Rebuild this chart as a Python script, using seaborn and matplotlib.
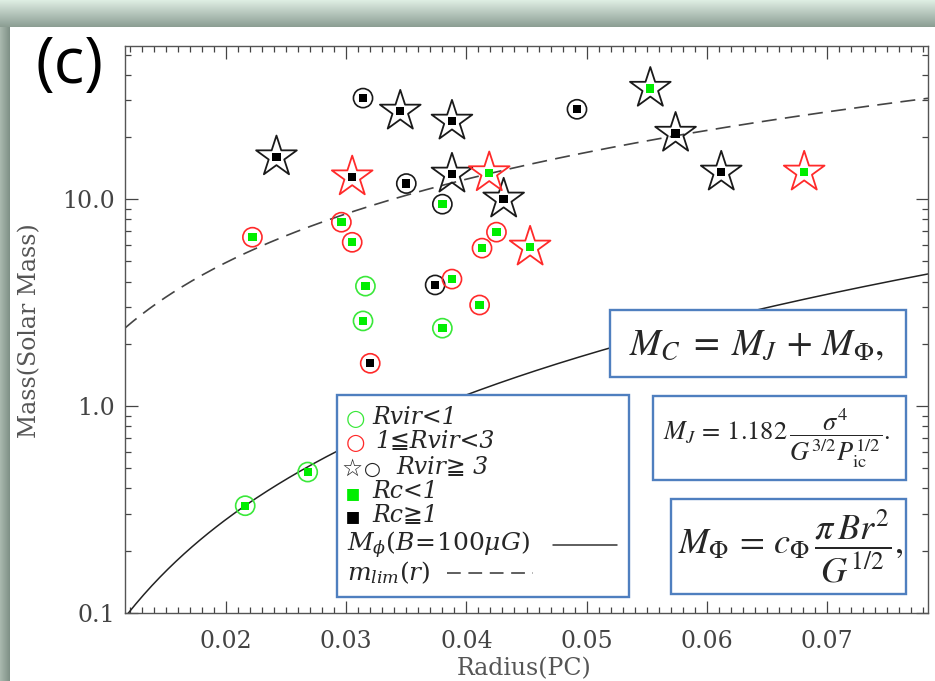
import numpy as np
import pandas as pd
import matplotlib
matplotlib.use("Agg")
import matplotlib.pyplot as plt
import seaborn as sns
from matplotlib.ticker import MultipleLocator, LogLocator, FuncFormatter, NullFormatter
from matplotlib.patches import Rectangle
from matplotlib.lines import Line2D

# ---------------- data ----------------
radius = [0.0216, 0.0268, 0.0316, 0.0314, 0.0380,
          0.0222, 0.0296, 0.0305, 0.0388, 0.0411, 0.0413, 0.0425,
          0.0320,
          0.0314, 0.0350, 0.0492, 0.0374,
          0.0380,
          0.0242, 0.0345, 0.0388, 0.0388, 0.0431, 0.0574, 0.0612,
          0.0553,
          0.0305,
          0.0419, 0.0453, 0.0681]
mass = [0.330, 0.48, 3.80, 2.58, 2.38,
        6.55, 7.74, 6.19, 4.11, 3.08, 5.80, 6.93,
        1.61,
        30.8, 11.9, 27.2, 3.85,
        9.46,
        16.0, 26.6, 23.8, 13.2, 10.0, 20.8, 13.5,
        34.3,
        12.8,
        13.4, 5.86, 13.5]
ring_color = (["green"] * 5 + ["red"] * 7 + ["red"] + ["black"] * 4 + ["black"]
              + ["black"] * 7 + ["black"] + ["red"] + ["red"] * 3)
ring_shape = (["circle"] * 5 + ["circle"] * 7 + ["circle"] + ["circle"] * 4 + ["circle"]
              + ["star"] * 7 + ["star"] + ["star"] + ["star"] * 3)
core_color = (["green"] * 5 + ["green"] * 7 + ["black"] + ["black"] * 4 + ["green"]
              + ["black"] * 7 + ["green"] + ["black"] + ["green"] * 3)

# model curves: M_phi = k * r^2 (B = 100 muG), m_lim = a * r^p
mphi_coef = 708.0
mlim_coef = 927.0
mlim_index = 1.338

x_limits = (0.0116, 0.0784)
y_limits = (0.1, 55.0)

df = pd.DataFrame({"radius": radius, "mass": mass, "ring_color": ring_color,
                   "ring_shape": ring_shape, "core_color": core_color})

# ---------------- style ----------------
sns.set_style("ticks")
plt.rcParams["font.family"] = ["DejaVu Serif", "DejaVu Sans", "Noto Sans CJK JP"]
plt.rcParams["mathtext.fontset"] = "dejavuserif"

W, H = 935, 681
fig = plt.figure(figsize=(W / 100, H / 100), dpi=100)

# slide-like background
axbg = fig.add_axes([0, 0, 1, 1], zorder=0)
bg = np.ones((H, W, 3))
top_h, left_w = 27, 10
t = np.linspace(0, 1, top_h)[:, None]
c0 = np.array([0.87, 0.93, 0.89]); c1 = np.array([0.55, 0.62, 0.58])
bg[:top_h] = (c0 * (1 - t) + c1 * t)[:, None, :]
s = np.linspace(0, 1, left_w)[:, None]
l0 = np.array([0.66, 0.72, 0.68]); l1 = np.array([0.50, 0.57, 0.53])
bg[top_h:, :left_w] = (l0 * (1 - s) + l1 * s)[None, :, :]
axbg.imshow(bg, extent=(0, W, H, 0), aspect="auto", interpolation="bilinear")
axbg.set_axis_off()

# main axes
L, R, T, B = 125, 928, 46, 613
ax = fig.add_axes([L / W, 1 - B / H, (R - L) / W, (B - T) / H], zorder=1)
ax.set_facecolor("white")
ax.set_yscale("log")

# model curves
r_grid = np.linspace(x_limits[0], x_limits[1], 300)
sns.lineplot(x=r_grid, y=mphi_coef * r_grid ** 2, ax=ax, color="#222222",
             linewidth=1.1, zorder=2)
sns.lineplot(x=r_grid, y=mlim_coef * r_grid ** mlim_index, ax=ax, color="#444444",
             linewidth=1.2, linestyle=(0, (9, 5)), zorder=2)

edge_colors = {"green": "#3ae83a", "red": "#ff2a2a", "black": "#1a1a1a"}
core_colors = {"green": "#00ee00", "black": "#000000"}
shape_marker = {"circle": "o", "star": "*"}
shape_size = {"circle": 190, "star": 950}
shape_lw = {"circle": 1.2, "star": 1.3}

for (rc, shp), grp in df.groupby(["ring_color", "ring_shape"]):
    sns.scatterplot(data=grp, x="radius", y="mass", ax=ax, marker=shape_marker[shp],
                    s=shape_size[shp], facecolor="none", edgecolor=edge_colors[rc],
                    linewidth=shape_lw[shp], zorder=3, legend=False)
for cc, grp in df.groupby("core_color"):
    sns.scatterplot(data=grp, x="radius", y="mass", ax=ax, marker="s", s=36,
                    color=core_colors[cc], edgecolor="none", linewidth=0,
                    zorder=4, legend=False)

ax.set_xlim(*x_limits)
ax.set_ylim(*y_limits)
ax.xaxis.set_major_locator(MultipleLocator(0.01))
ax.xaxis.set_minor_locator(MultipleLocator(0.001))
ax.xaxis.set_major_formatter(FuncFormatter(lambda v, p: f"{v:.2f}"))
ax.yaxis.set_major_locator(LogLocator(base=10, numticks=10))
ax.yaxis.set_minor_locator(LogLocator(base=10, subs=np.arange(2, 10), numticks=20))
ax.yaxis.set_minor_formatter(NullFormatter())
ax.yaxis.set_major_formatter(FuncFormatter(lambda v, p: f"{v:.1f}"))
ax.tick_params(which="both", direction="in", top=True, right=True,
               color="#444444", labelcolor="#444444", labelsize=17, width=0.9)
ax.tick_params(which="major", length=9)
ax.tick_params(which="minor", length=4.5)
ax.tick_params(axis="x", pad=12)
ax.tick_params(axis="y", pad=7)
for sp in ax.spines.values():
    sp.set_color("#555555"); sp.set_linewidth(1.0)

ax.set_xlabel("Radius(PC)", fontsize=17, color="#555555")
ax.xaxis.set_label_coords((524 - L) / (R - L), -(657 - B) / (B - T))
ax.set_ylabel("Mass(Solar Mass)", fontsize=17, color="#555555")
ax.yaxis.set_label_coords((30 - L) / (R - L), (B - 331) / (B - T))
ax.yaxis.label.set_va("center")

# overlay (pixel coordinates) for panel label, legend box and formula boxes
axo = fig.add_axes([0, 0, 1, 1], zorder=5)
axo.set_xlim(0, W); axo.set_ylim(H, 0); axo.set_axis_off()
axo.patch.set_alpha(0)

axo.text(70, 66, "(c)", fontsize=46, family="Open Sans", ha="center", va="center",
         color="black")

box_col = "#4f7fbf"
def box(x0, y0, x1, y1):
    axo.add_patch(Rectangle((x0, y0), x1 - x0, y1 - y0, facecolor="white",
                            edgecolor=box_col, linewidth=1.7, zorder=1))

# legend
box(337, 395, 629, 597)
sym_fam = ["DejaVu Sans", "Noto Sans CJK JP"]
txt_fam = ["DejaVu Serif", "DejaVu Sans", "Noto Sans CJK JP"]
lfs = 17
axo.text(355, 419, "○", color="#3ae83a", fontsize=16, family=sym_fam, ha="center", va="center", zorder=2)
axo.text(372, 418, "Rvir<1", fontsize=lfs, family=txt_fam, style="italic", va="center", zorder=2)
axo.text(355, 443, "○", color="#ff2a2a", fontsize=16, family=sym_fam, ha="center", va="center", zorder=2)
axo.text(375, 442, "1≦Rvir<3", fontsize=lfs, family=txt_fam, style="italic", va="center", zorder=2)
axo.text(352, 469, "☆", color="#222222", fontsize=17, family=sym_fam, ha="center", va="center", zorder=2)
axo.text(372, 469, "○", color="#222222", fontsize=14, family=sym_fam, ha="center", va="center", zorder=2)
axo.text(396, 468, "Rvir≧ 3", fontsize=lfs, family=txt_fam, style="italic", va="center", zorder=2)
axo.text(353, 493, "▪", color="#00ee00", fontsize=17, family=sym_fam, ha="center", va="center", zorder=2)
axo.text(372, 492, "Rc<1", fontsize=lfs, family=txt_fam, style="italic", va="center", zorder=2)
axo.text(353, 516, "▪", color="black", fontsize=17, family=sym_fam, ha="center", va="center", zorder=2)
axo.text(372, 515, "Rc≧1", fontsize=lfs, family=txt_fam, style="italic", va="center", zorder=2)
axo.text(347, 545, r"$M_{\phi}(B\!=\!100\mu G)$", fontsize=lfs + 1, va="center", zorder=2)
axo.add_line(Line2D([553, 617], [545, 545], color="#333333", linewidth=1.1, zorder=2))
axo.text(347, 573, r"$m_{lim}(r)$", fontsize=lfs + 1, va="center", zorder=2)
axo.add_line(Line2D([447, 533], [573, 573], color="#333333", linewidth=1.1,
                    linestyle=(0, (9, 5)), zorder=2))

# formula boxes
box(610, 310, 906, 377)
axo.text(757, 345, r"$M_C\;=\;M_J\,+\,M_\Phi,$", fontsize=27, math_fontfamily="stix",
         ha="center", va="center", zorder=2)
box(653, 396, 906, 480)
axo.text(777, 438, r"$M_J\,=\,1.182\,\dfrac{\sigma^4}{G^{3/2}P_{\rm ic}^{1/2}}.$",
         fontsize=19, math_fontfamily="stix", ha="center", va="center", zorder=2)
box(671, 499, 906, 594)
axo.text(678, 546, r"$M_\Phi\,=\,c_\Phi\,\dfrac{\pi\, B r^2}{G^{1/2}},$", fontsize=26,
         math_fontfamily="stix", ha="left", va="center", zorder=2)

fig.savefig("out.png", dpi=100)
